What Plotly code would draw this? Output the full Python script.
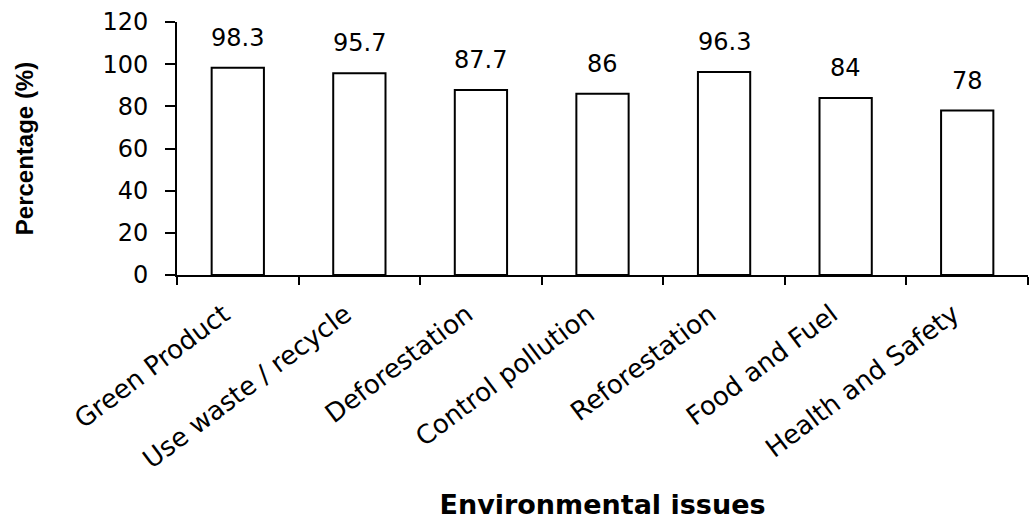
import plotly.graph_objects as go

categories = ["Green Product", "Use waste / recycle", "Deforestation", "Control pollution",
              "Reforestation", "Food and Fuel", "Health and Safety"]
values = [98.3, 95.7, 87.7, 86, 96.3, 84, 78]
value_labels = ["98.3", "95.7", "87.7", "86", "96.3", "84", "78"]
y_ticks = [0, 20, 40, 60, 80, 100, 120]

FONT = "DejaVu Sans, Liberation Sans, Arial, sans-serif"
BOLD = "Liberation Sans, Arial, sans-serif"

fig = go.Figure()
fig.add_trace(go.Bar(
    x=categories, y=values,
    marker=dict(color="white", line=dict(color="black", width=2)),
    width=0.43,
))

for c, v, t in zip(categories, values, value_labels):
    fig.add_annotation(x=c, y=v, text=t, showarrow=False, yanchor="bottom",
                       yshift=14, font=dict(family=FONT, size=24, color="black"))

fig.update_layout(
    width=1029, height=520,
    margin=dict(l=177, r=1, t=22, b=245),
    plot_bgcolor="white", paper_bgcolor="white",
    showlegend=False,
    font=dict(family=FONT, color="black"),
)
fig.update_yaxes(
    automargin=False,
    range=[0, 120], tickvals=y_ticks, showgrid=False, zeroline=False,
    showline=True, linecolor="black", linewidth=2,
    ticks="outside", ticklen=10, tickwidth=2, tickcolor="black",
    ticklabelstandoff=12,
    tickfont=dict(family=FONT, size=24, color="black"),
    title=dict(text="<b>Percentage (%)</b>", standoff=62,
               font=dict(family=BOLD, size=24, color="black")),
)
fig.update_xaxes(
    automargin=False,
    showgrid=False, showline=True, linecolor="black", linewidth=2,
    ticks="outside", ticklen=8, tickwidth=2, tickcolor="black",
    tickson="boundaries", tickangle=-37, ticklabelstandoff=12, ticklabelshift=-14,
    tickfont=dict(family=FONT, size=26, color="black"),
    title=dict(text="<b>Environmental issues</b>", standoff=28,
               font=dict(family=FONT, size=27, color="black")),
)

fig.write_html("out.html", config={"displayModeBar": False},
               post_script="document.body.style.margin='0';")
